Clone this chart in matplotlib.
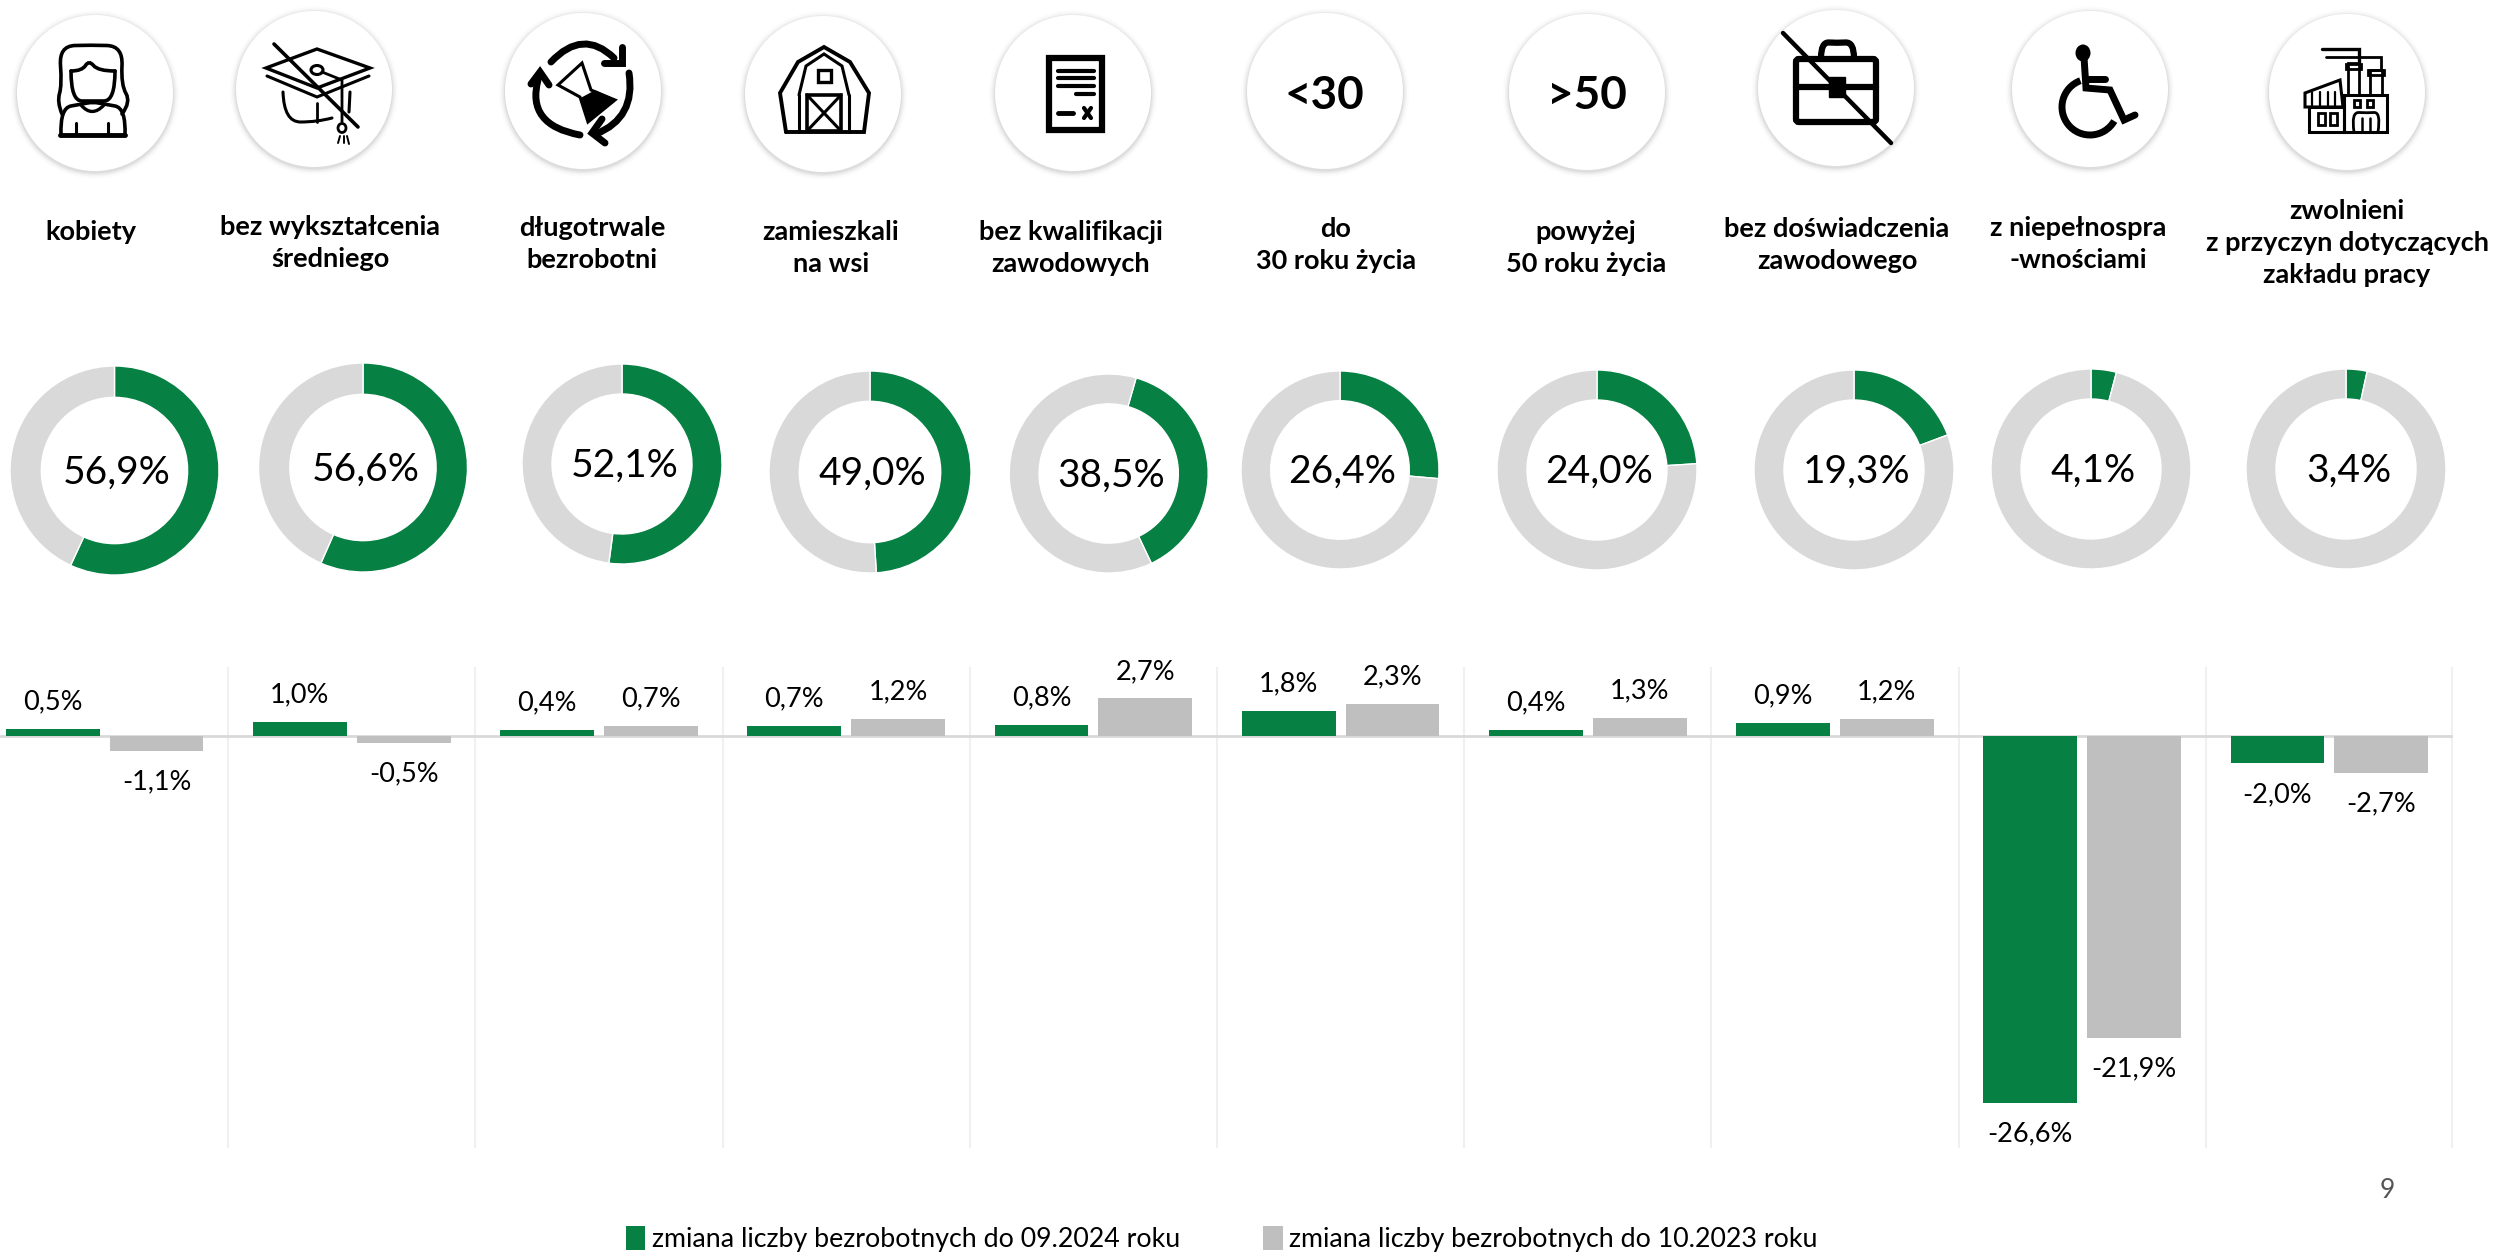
import matplotlib
matplotlib.use("Agg")
import matplotlib.pyplot as plt
from matplotlib.patches import Circle, Rectangle, Arc, PathPatch, Ellipse, FancyBboxPatch
from matplotlib.path import Path

# ---------- Data ----------
categories = ["kobiety", "bez wykształcenia\nśredniego", "długotrwale\nbezrobotni",
              "zamieszkali\nna wsi", "bez kwalifikacji\nzawodowych", "do\n30 roku życia",
              "powyżej\n50 roku życia", "bez doświadczenia\nzawodowego",
              "z niepełnospra\n-wnościami", "zwolnieni\nz przyczyn dotyczących\nzakładu pracy"]
shares = [56.9, 56.6, 52.1, 49.0, 38.5, 26.4, 24.0, 19.3, 4.1, 3.4]
change2024 = [0.5, 1.0, 0.4, 0.7, 0.8, 1.8, 0.4, 0.9, -26.6, -2.0]
change2023 = [-1.1, -0.5, 0.7, 1.2, 2.7, 2.3, 1.3, 1.2, -21.9, -2.7]
legendLabels = ["zmiana liczby bezrobotnych do 09.2024 roku",
                "zmiana liczby bezrobotnych do 10.2023 roku"]

# ---------- Settings ----------
W, H = 2499, 1252
GREEN = "#068043"
GREY = "#bfbfbf"
RING = "#d9d9d9"
plt.rcParams["font.family"] = ["Lato", "DejaVu Sans"]

iconCentres = [(95, 93), (314, 89), (583, 91), (823, 94), (1073, 93),
               (1325, 91), (1587, 92), (1836, 88), (2090, 89), (2347, 92)]
labelCentres = [(91, 232), (330, 243), (592, 244), (831, 248), (1071, 248),
                (1336, 245), (1586, 248), (1837, 245), (2078, 244), (2347, 243)]
donuts = [(114.5, 470.5, 104.5), (363, 467.5, 104.5), (622, 464, 100), (870, 472, 101), (1108.7, 473.5, 99.5),
          (1340, 470, 99), (1597, 470, 100), (1854, 470, 100), (2091, 469, 100), (2346, 469, 100)]
donutRotation = [0, 0, 0, 0, 16, 0, 0, 0, 0, 0]

fig = plt.figure(figsize=(W / 100, H / 100), dpi=100, facecolor="white")


def pxAxes(left, top, right, bottom):
    return fig.add_axes([left / W, 1 - bottom / H, (right - left) / W, (bottom - top) / H])


# ---------- Bars ----------
ax = pxAxes(-19, 667, -19 + 247.2 * 10, 1148)
ax.set_xlim(-0.5, 9.5)
ax.set_ylim(-29.88, 4.98)
ax.axis("off")
pos = list(range(len(categories)))
off = 0.21
w = 0.38
bars1 = ax.bar([p - off for p in pos], change2024, w, color=GREEN, zorder=3)
bars2 = ax.bar([p + off for p in pos], change2023, w, color=GREY, zorder=3)
for p in pos[:-1]:
    ax.axvline(p + 0.5, color="#f0f0f0", lw=1.5, zorder=1)
ax.axvline(9.5, color="#f0f0f0", lw=3, zorder=1)
ax.axhline(0, color="#d9d9d9", lw=2, zorder=2)
for bars in (bars1, bars2):
    for b in bars:
        v = b.get_height()
        ax.annotate(f"{v:.1f}%".replace(".", ","),
                    (b.get_x() + b.get_width() / 2, v),
                    xytext=(0, 19.5 if v > 0 else -22.5), textcoords="offset points",
                    ha="center", va="center", fontsize=19.5, color="black", zorder=4)

# ---------- Donuts ----------
for (cx, cy, r), v, rot in zip(donuts, shares, donutRotation):
    dax = pxAxes(cx - r, cy - r, cx + r, cy + r)
    dax.pie([v, 100 - v], colors=[GREEN, RING], startangle=90 - rot, counterclock=False,
            radius=1.0, wedgeprops={"width": 0.30, "linewidth": 1.0, "edgecolor": "white"})
    dax.set_xlim(-1, 1)
    dax.set_ylim(-1, 1)
    dax.text(0.025, -0.02, f"{v:.1f}%".replace(".", ","), ha="center", va="center", fontsize=28)

# ---------- Overlay in pixels: icons and texts ----------
ov = fig.add_axes([0, 0, 1, 1], zorder=5)
ov.set_xlim(0, W)
ov.set_ylim(H, 0)
ov.axis("off")
ov.patch.set_alpha(0)


def line(pts, lw=3.0):
    xs, ys = zip(*pts)
    ov.plot(xs, ys, color="black", lw=lw, solid_capstyle="round", solid_joinstyle="miter", zorder=8)


def curve(pts, lw=3.0):
    # smooth line through the midpoints of the control points
    verts = [pts[0]]
    codes = [Path.MOVETO]
    for i in range(1, len(pts) - 1):
        nx = pts[i + 1] if i == len(pts) - 2 else ((pts[i][0] + pts[i + 1][0]) / 2, (pts[i][1] + pts[i + 1][1]) / 2)
        verts += [pts[i], nx]
        codes += [Path.CURVE3, Path.CURVE3]
    ov.add_patch(PathPatch(Path(verts, codes), fc="none", ec="black", lw=lw, capstyle="round", zorder=8))


def poly(pts, fill="none", lw=2.0):
    ov.add_patch(plt.Polygon(pts, closed=True, fc=fill, ec="black", lw=lw, zorder=8))


def box(x0, y0, x1, y1, lw=2.0, fill="none"):
    ov.add_patch(Rectangle((x0, y0), x1 - x0, y1 - y0, fc=fill, ec="black", lw=lw, zorder=8))


for cx, cy in iconCentres:
    for grow, a in [(6, 0.03), (4, 0.05), (2.5, 0.08), (1, 0.12)]:
        ov.add_patch(Circle((cx, cy + 1.5), 78 + grow, fc="#808080", ec="none", alpha=a, zorder=6))
    ov.add_patch(Circle((cx, cy), 78, fc="white", ec="none", zorder=7))

# woman
curve([(62, 114), (57, 102), (62, 85), (59, 46), (91, 45), (123, 46), (121, 85), (131, 102), (122, 114)], 2.6)
curve([(71, 71), (82, 71), (89, 60), (98, 71), (115, 71)], 2.6)
curve([(71, 71), (71, 101), (93, 101), (115, 101), (115, 71)], 2.6)
curve([(61, 135), (60, 108), (82, 104), (93, 102), (104, 104), (126, 108), (125, 135)], 2.6)
line([(60, 135), (125, 135)], 3.5)
curve([(81, 105), (92, 118), (104, 105)], 2.4)
line([(76, 123), (76, 134)], 2.2)
line([(108, 123), (108, 134)], 2.2)

# cap
poly([(266, 68), (317, 49), (370, 68), (317, 88)], lw=2.4)
line([(267, 76), (317, 97), (369, 76)], 2.2)
curve([(283, 92), (284, 122), (317, 122), (332, 118)], 2.2)
line([(350, 92), (349, 112)], 2.2)
line([(317, 103), (317, 122)], 2.0)
ov.add_patch(Ellipse((317, 70), 12, 9, fc="white", ec="black", lw=2.2, zorder=8))
line([(322, 72), (342, 80), (342, 122)], 2.0)
ov.add_patch(Ellipse((342, 128), 8, 9, fc="white", ec="black", lw=2.0, zorder=8))
line([(338, 143), (340, 136)], 1.4)
line([(344, 143), (344, 136)], 1.4)
line([(349, 144), (347, 136)], 1.4)
line([(274, 44), (358, 127)], 2.6)

# hourglass with arrows
curve([(551, 62), (583, 28), (614, 58)], 5)
line([(622, 47), (622, 63), (604, 63)], 5)
curve([(629, 73), (636, 118), (596, 134)], 5)
line([(602, 119), (592, 133), (605, 143)], 5)
curve([(580, 135), (526, 125), (538, 80)], 5)
line([(531, 84), (540, 72), (549, 85)], 5)
poly([(582, 63), (558, 85), (580, 97), (588, 122), (615, 100), (591, 90)], lw=2.2)
poly([(582, 98), (588, 122), (615, 100), (595, 91)], fill="black", lw=1)

# barn
line([(786, 132), (780, 93), (798, 62), (824, 47), (850, 62), (869, 93), (864, 132), (786, 132)], 2.8)
line([(799, 95), (806, 66), (824, 54), (842, 66), (849, 95)], 2.2)
line([(799, 95), (799, 132)], 2.2)
line([(849, 95), (849, 132)], 2.2)
box(818, 70, 831, 82, 2.4)
box(807, 95, 841, 131, 2.6)
line([(807, 95), (841, 131)], 2.2)
line([(841, 95), (807, 131)], 2.2)

# document
box(1049, 58, 1102, 130, 4.5)
for y, x0 in [(71, 1058), (78, 1058), (86, 1058), (94, 1076)]:
    line([(x0, y), (1094, y)], 3.0)
line([(1058, 113), (1073, 113)], 3.5)
line([(1084, 108), (1091, 118)], 3.0)
line([(1091, 108), (1084, 118)], 3.0)

# age signs
ov.text(1324, 96, "<30", fontsize=33, fontweight="bold", ha="center", va="center", zorder=8)
ov.text(1587, 96, ">50", fontsize=33, fontweight="bold", ha="center", va="center", zorder=8)

# briefcase
ov.add_patch(FancyBboxPatch((1796, 59), 80, 63, boxstyle="round,pad=0,rounding_size=3",
                            fc="none", ec="black", lw=4.5, zorder=8))
line([(1796, 87), (1876, 87)], 4.5)
curve([(1821, 58), (1821, 42), (1837, 43), (1854, 42), (1854, 58)], 4.5)
box(1829, 77, 1845, 97, 1, fill="black")
line([(1783, 33), (1891, 143)], 3.2)

# wheelchair
ov.add_patch(Ellipse((2083, 53), 15, 17, fc="black", ec="none", zorder=8))
line([(2084, 57), (2086, 88), (2110, 90), (2124, 120), (2135, 115)], 5)
line([(2086, 79), (2105, 79)], 5)
ov.add_patch(Arc((2090, 107), 56, 56, theta1=30, theta2=250, ec="black", lw=5, zorder=8))

# factory
line([(2322, 49), (2359, 49), (2359, 63)], 2.4)
line([(2326, 57), (2381, 57), (2381, 70)], 2.0)
box(2348, 63, 2359, 95, 2)
box(2370, 70, 2382, 95, 2)
box(2346, 64, 2361, 69, 2)
box(2368, 70, 2384, 75, 2)
box(2344, 95, 2387, 132, 2.2)
box(2309, 107, 2344, 132, 2.2)
poly([(2305, 93), (2340, 80), (2343, 107), (2305, 107)], lw=2.2)
for x in (2312, 2320, 2328, 2335):
    line([(x, 92), (x, 106)], 1.6)
for x in (2318, 2330):
    box(x, 113, x + 7, 125, 2)
for x in (2354, 2367):
    box(x, 100, x + 6, 107, 2)
curve([(2354, 132), (2351, 112), (2367, 113), (2381, 112), (2378, 132)], 2)
line([(2362, 118), (2362, 132)], 1.8)
line([(2370, 118), (2370, 132)], 1.8)

# category titles
for (x, y), t in zip(labelCentres, categories):
    ov.text(x, y, t, ha="center", va="center", fontsize=19.5, fontweight="bold",
            linespacing=1.38, zorder=8)

# page number
ov.text(2387, 1191, "9", ha="center", va="center", fontsize=19, color="#555555", zorder=8)

# ---------- Legend ----------
fig.legend([bars1[0], bars2[0]], legendLabels, loc="center", ncol=2, frameon=False,
           bbox_to_anchor=(1222 / W, 1 - 1239 / H), fontsize=19.3,
           handlelength=0.72, handleheight=1.0, handletextpad=0.25, columnspacing=3.1)

fig.savefig("out.png", dpi=100)
